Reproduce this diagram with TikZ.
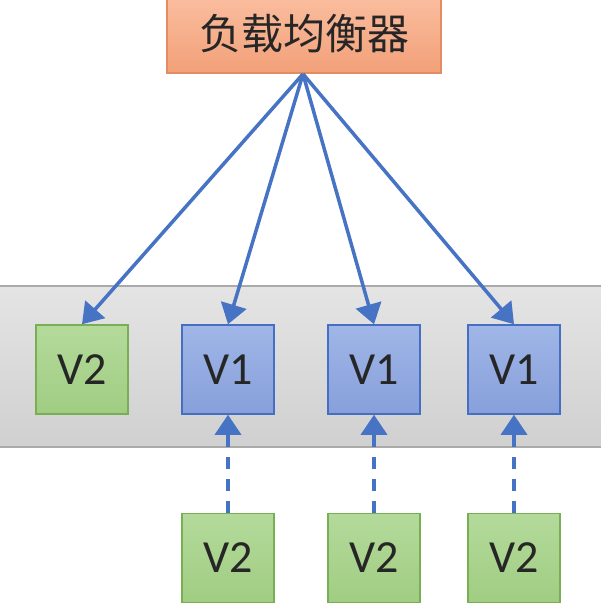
\documentclass[tikz,border=0pt]{standalone}
\usepackage{fontspec}
\setmainfont{Carlito}
\newfontfamily\cjk{Noto Sans CJK SC}
\usetikzlibrary{arrows.meta}
\definecolor{lbfillA}{RGB}{250,190,160}
\definecolor{lbfillB}{RGB}{242,160,120}
\definecolor{lbline}{RGB}{226,140,100}
\definecolor{gfillA}{RGB}{180,218,155}
\definecolor{gfillB}{RGB}{160,205,130}
\definecolor{gline}{RGB}{120,175,85}
\definecolor{bfillA}{RGB}{160,182,232}
\definecolor{bfillB}{RGB}{135,160,218}
\definecolor{bline}{RGB}{70,110,195}
\definecolor{arrcol}{RGB}{70,115,196}
\definecolor{bandA}{RGB}{228,228,228}
\definecolor{bandB}{RGB}{208,208,208}
\definecolor{bandline}{RGB}{170,170,170}
\tikzset{
  lbbox/.style={draw=lbline, line width=1.5pt, top color=lbfillA, bottom color=lbfillB, minimum width=274pt, minimum height=78pt, inner sep=0pt, font=\fontsize{42}{46}\selectfont\cjk, text=black!85},
  vbox/.style={line width=1.5pt, minimum width=92pt, minimum height=89pt, inner sep=0pt, font=\fontsize{46}{50}\selectfont, text=black!85},
  gbox/.style={vbox, draw=gline, top color=gfillA, bottom color=gfillB},
  bbox/.style={vbox, draw=bline, top color=bfillA, bottom color=bfillB},
  arr/.style={draw=arrcol, line width=3.5pt, -{Triangle[width=26pt,length=20pt]}},
  darr/.style={arr, dash pattern=on 12pt off 10pt},
}
\begin{document}
\begin{tikzpicture}[x=1pt,y=-1pt]
\useasboundingbox (0,0) rectangle (600,607);
\fill[white] (0,0) rectangle (600,607);
\draw[bandline, line width=1.5pt, top color=bandA, bottom color=bandB] (-3,286) rectangle (603,447);
\node[lbbox] (lb) at (304,34) {负载均衡器};
\coordinate (src) at (303,74);
\node[gbox] (a) at (82,369.5) {V2};
\node[bbox] (b) at (228,369.5) {V1};
\node[bbox] (c) at (374,369.5) {V1};
\node[bbox] (d) at (514,369.5) {V1};
\node[gbox] (e) at (228,558) {V2};
\node[gbox] (f) at (374,558) {V2};
\node[gbox] (g) at (514,558) {V2};
\draw[arr] (src) -- (a.north);
\draw[arr] (src) -- (b.north);
\draw[arr] (src) -- (c.north);
\draw[arr] (src) -- (d.north);
\draw[darr] (e.north) -- (b.south);
\draw[darr] (f.north) -- (c.south);
\draw[darr] (g.north) -- (d.south);
\end{tikzpicture}
\end{document}
